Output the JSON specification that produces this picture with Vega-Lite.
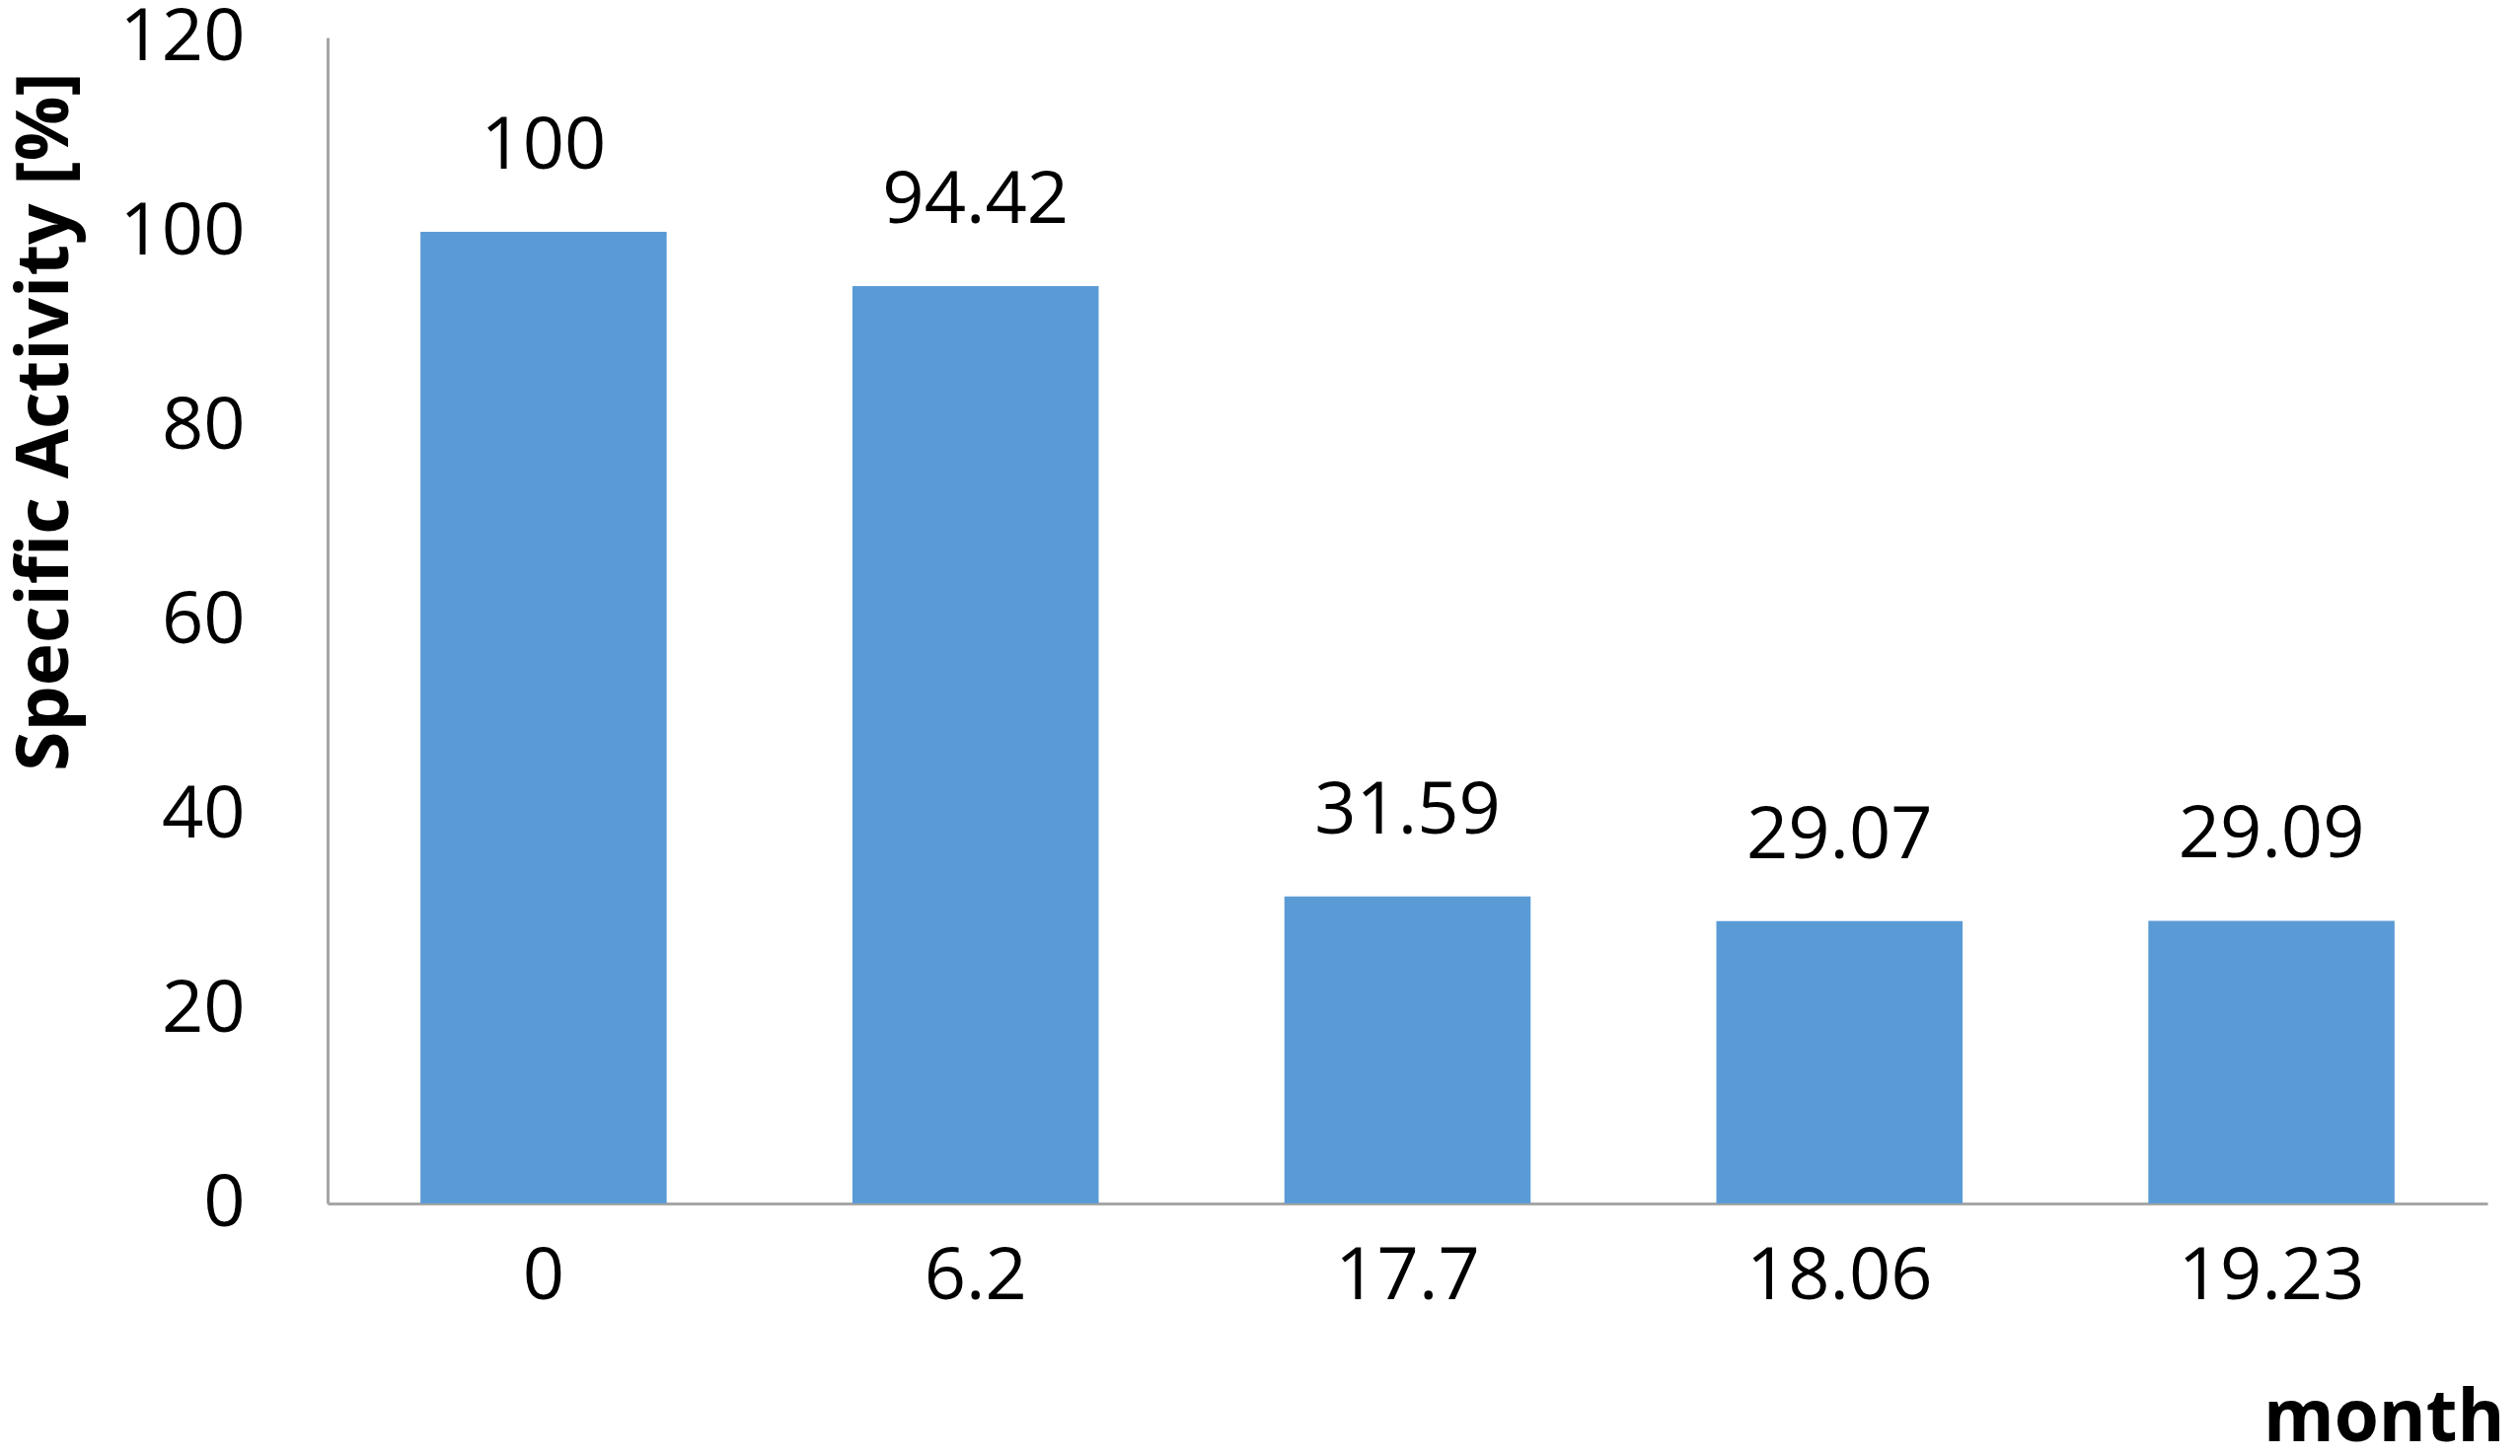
{
  "$schema": "https://vega.github.io/schema/vega-lite/v6.json",
  "autosize": {"type": "none"},
  "padding": {"left": 332, "top": 38, "right": 33, "bottom": 256},
  "width": 2189,
  "height": 1182,
  "background": "white",
  "data": {"values": [
    {"month": "0", "activity": 100},
    {"month": "6.2", "activity": 94.42},
    {"month": "17.7", "activity": 31.59},
    {"month": "18.06", "activity": 29.07},
    {"month": "19.23", "activity": 29.09}
  ]},
  "config": {
    "view": {"stroke": null},
    "font": "Open Sans"
  },
  "encoding": {
    "x": {
      "field": "month", "type": "nominal", "sort": null,
      "scale": {"paddingInner": 0.43, "paddingOuter": 0.215},
      "axis": {
        "title": "month", "titleFont": "Open Sans", "titleFontWeight": "bold", "titleFontSize": 73,
        "titleColor": "#000000", "titleAnchor": "end", "titleAlign": "right", "titleBaseline": "alphabetic",
        "titleX": 2206, "titleY": 240, "titleLimit": 0,
        "labelAngle": 0, "labelFontSize": 74, "labelColor": "#000000", "labelPadding": 38,
        "labelBaseline": "top", "labelLimit": 0, "labelOverlap": false,
        "ticks": false, "domainColor": "#A6A6A6", "domainWidth": 3, "grid": false
      }
    },
    "y": {
      "field": "activity", "type": "quantitative",
      "scale": {"domain": [0, 120], "nice": false},
      "axis": {
        "title": "Specific Activity [%]", "titleFont": "Open Sans", "titleFontWeight": "bold", "titleFontSize": 73,
        "titleColor": "#000000", "titleAngle": -90, "titleAlign": "center", "titleBaseline": "middle",
        "titleX": -286, "titleY": 389, "titleLimit": 0,
        "values": [0, 20, 40, 60, 80, 100, 120],
        "labelFontSize": 74, "labelColor": "#000000", "labelPadding": 84, "labelLimit": 0,
        "ticks": false, "domainColor": "#A6A6A6", "domainWidth": 3, "grid": false
      }
    }
  },
  "layer": [
    {"mark": {"type": "bar", "color": "#5B9BD5"}},
    {
      "mark": {"type": "text", "fontSize": 74, "color": "#000000", "baseline": "alphabetic", "dy": -64, "font": "Open Sans"},
      "encoding": {"text": {"field": "activity", "type": "nominal"}}
    }
  ]
}
